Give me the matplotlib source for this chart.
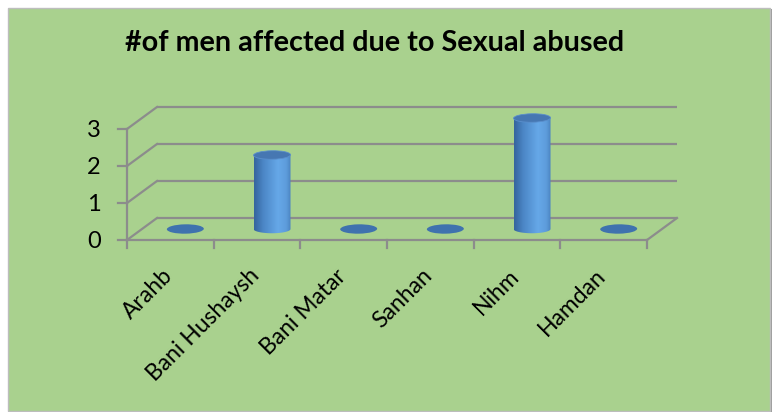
import numpy as np
import matplotlib
matplotlib.use("Agg")
import matplotlib.pyplot as plt
from matplotlib.patches import Rectangle, Ellipse, PathPatch
from matplotlib.path import Path
from matplotlib.colors import LinearSegmentedColormap

# ---- data ----
categories = ["Arahb", "Bani Hushaysh", "Bani Matar", "Sanhan", "Nihm", "Hamdan"]
values = [0, 2, 0, 0, 3, 0]
y_ticks = [0, 1, 2, 3]
title = "#of men affected due to Sexual abused"

# ---- styling ----
W, H, DPI = 778, 412, 100
BG = "#A9D18E"
GRID = "#8C8C8C"
FONT = "Lato"

# pixel geometry of the oblique 3-D frame
px_x0, px_cat = 127.0, 86.67      # left front corner, width of one category
px_y0, px_val = 240.0, 37.0       # floor row (from top), height of one unit
depth_px = (30.0, 22.0)           # back-wall offset (right, up)

fig = plt.figure(figsize=(W / DPI, H / DPI), dpi=DPI)
fig.patch.set_facecolor("white")

# chart area with a soft shadow on the right/bottom
fig.patches.append(Rectangle((9.5 / W, 0.0), 762 / W, 403 / H, transform=fig.transFigure,
                             facecolor="#9A9A9A", edgecolor="none", zorder=0))
fig.patches.append(Rectangle((7.5 / W, 1.5 / H), 762 / W, 403 / H, transform=fig.transFigure,
                             facecolor=BG, edgecolor="#BDBDBD", linewidth=1.0, zorder=0.5))

ax = fig.add_axes([0, 0, 1, 1])
ax.set_zorder(2)
ax.set_axis_off()
ax.patch.set_alpha(0)

n = len(categories)
dx = depth_px[0] / px_cat
dy = depth_px[1] / px_val
vmax = max(y_ticks)

# back wall gridlines and left-wall diagonals
for v in y_ticks:
    ax.plot([dx, n + dx], [v + dy, v + dy], color=GRID, lw=1.6, solid_capstyle="butt", zorder=1)
    ax.plot([0, dx], [v, v + dy], color=GRID, lw=1.6, zorder=1)
# floor edges
ax.plot([0, n], [0, 0], color=GRID, lw=1.6, zorder=1)
ax.plot([n, n + dx], [0, dy], color=GRID, lw=1.6, zorder=1)
# vertical value axis and ticks
ax.plot([0, 0], [0, vmax], color=GRID, lw=1.6, zorder=1)
tick_len_x = 9.0 / px_cat
for v in y_ticks:
    ax.plot([-tick_len_x, 0], [v, v], color=GRID, lw=1.6, zorder=1)
    ax.text(-tick_len_x - 0.2, v - 0.05, str(v), ha="right", va="center",
            fontsize=17, family=FONT, color="black")
# category ticks
tick_len_y = 8.0 / px_val
for i in range(n + 1):
    ax.plot([i, i], [0, -tick_len_y], color=GRID, lw=1.6, zorder=1)
for i, lab in enumerate(categories):
    ax.text(i + 0.40, -0.68, lab, ha="right", va="top", rotation=45,
            rotation_mode="anchor", fontsize=16.5, family=FONT, color="black")

# cylinders
cyl_w = 37.0 / px_cat
ell_h = 8.5 / px_val
grad = LinearSegmentedColormap.from_list(
    "cyl", [(0.0, "#35649C"), (0.25, "#4B86C6"), (0.65, "#66A8E8"),
            (0.88, "#5D9CDB"), (1.0, "#4A82C0")])
top_color = "#4677B2"
flat_color = "#3F72AE"
gradient = np.linspace(0, 1, 256).reshape(1, -1)

for i, v in enumerate(values):
    cx = i + 0.5 + dx / 2
    base = dy / 2
    if v <= 0:
        ax.add_patch(Ellipse((cx, base), cyl_w, ell_h * 1.1, angle=3,
                             facecolor=flat_color, edgecolor="none", zorder=3))
        continue
    top = base + v
    xl, xr = cx - cyl_w / 2, cx + cyl_w / 2
    # body outline: rectangle plus lower half-ellipse
    t = np.linspace(np.pi, 2 * np.pi, 60)
    bottom = np.column_stack([cx + cyl_w / 2 * np.cos(t), base + ell_h / 2 * np.sin(t)])
    verts = np.vstack([[[xl, top]], bottom, [[xr, top]], [[xl, top]]])
    body = Path(verts, closed=True)
    clip = PathPatch(body, facecolor="none", edgecolor="none", transform=ax.transData)
    ax.add_patch(clip)
    im = ax.imshow(gradient, cmap=grad, aspect="auto", interpolation="bicubic",
                   extent=[xl, xr, base - ell_h, top], zorder=3)
    im.set_clip_path(clip)
    ax.add_patch(Ellipse((cx, top), cyl_w, ell_h, angle=3,
                         facecolor=top_color, edgecolor="#5A8FCC", linewidth=0.6, zorder=4))

ax.set_xlim(-px_x0 / px_cat, (W - px_x0) / px_cat)
ax.set_ylim(-(H - px_y0) / px_val, px_y0 / px_val)

fig.text(375 / W, 1 - 43 / H, title, ha="center", va="center",
         fontsize=20.7, fontweight="bold", family=FONT, color="black")

fig.savefig("out.png", dpi=DPI)
